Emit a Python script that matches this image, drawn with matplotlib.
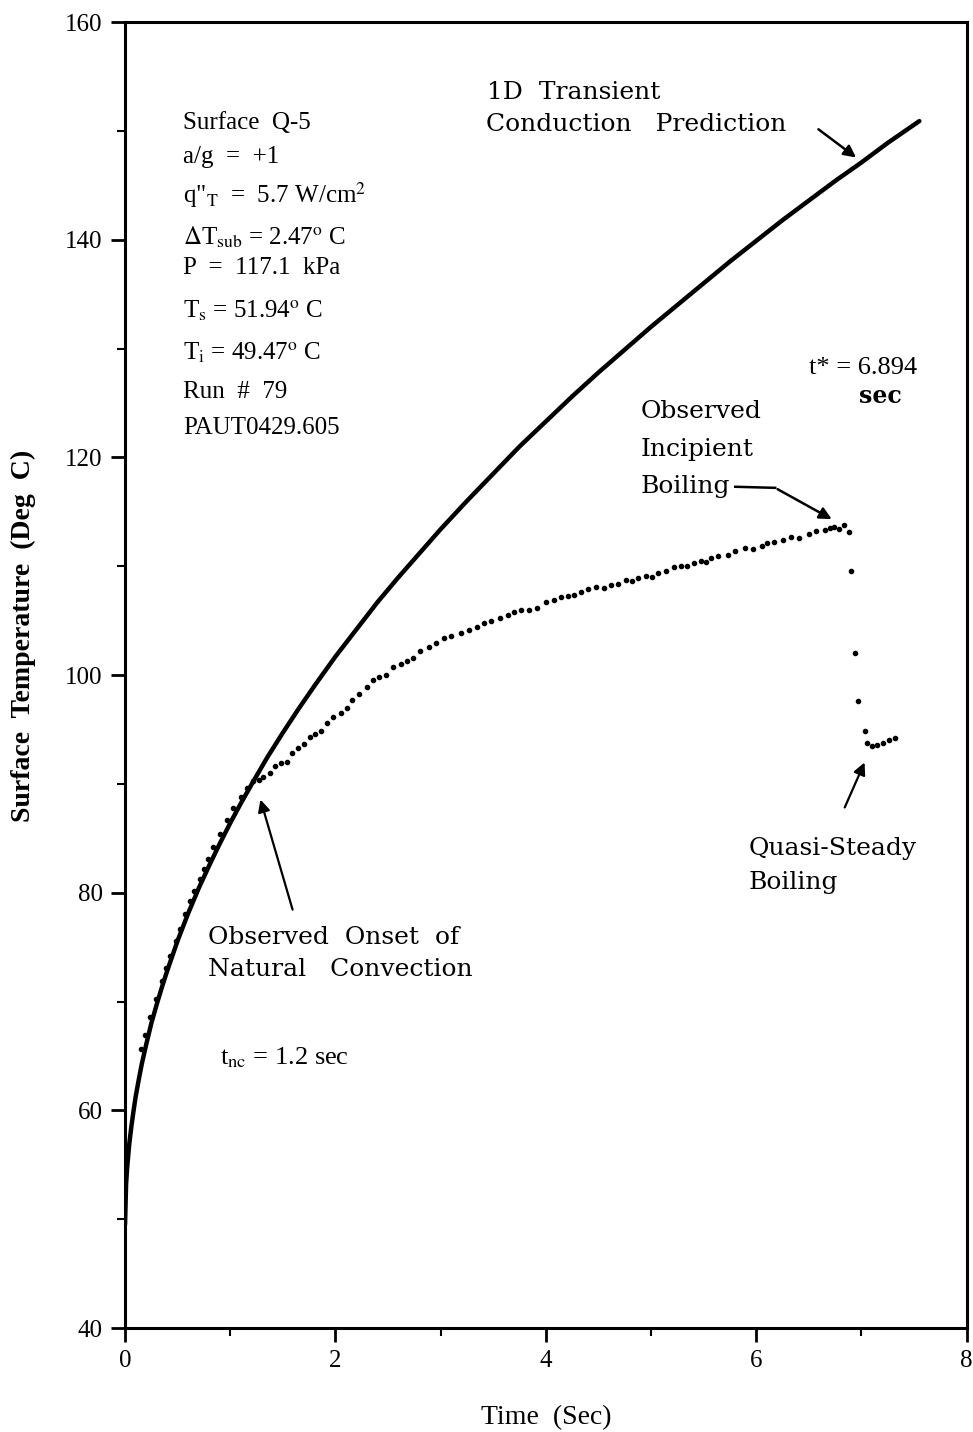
import matplotlib
matplotlib.use("Agg")
import matplotlib.pyplot as plt

plt.rcParams["font.family"] = ["Liberation Serif", "DejaVu Serif"]
plt.rcParams["mathtext.fontset"] = "stix"

# 1D transient conduction prediction
pred_t = [0.0, 0.01, 0.02, 0.04, 0.06, 0.08, 0.1, 0.13, 0.16, 0.2, 0.25, 0.3, 0.35,
          0.4, 0.5, 0.6, 0.7, 0.8, 0.9, 1.0, 1.1, 1.2, 1.35, 1.5, 1.65, 1.8, 2.0,
          2.2, 2.4, 2.6, 2.8, 3.0, 3.25, 3.5, 3.75, 4.0, 4.25, 4.5, 4.75, 5.0,
          5.25, 5.5, 5.75, 6.0, 6.25, 6.5, 6.75, 7.0, 7.25, 7.55]
pred_T = [49.5, 53.2, 54.7, 56.9, 58.5, 59.9, 61.2, 62.8, 64.3, 66.0, 68.0, 69.7, 71.3,
          72.8, 75.6, 78.1, 80.4, 82.5, 84.5, 86.4, 88.2, 89.9, 92.4, 94.7, 96.9, 99.0, 101.7,
          104.2, 106.7, 109.0, 111.2, 113.4, 116.0, 118.5, 121.0, 123.3, 125.6, 127.8, 129.9, 132.0,
          134.0, 136.0, 138.0, 139.9, 141.8, 143.6, 145.4, 147.1, 148.9, 150.9]

# measured surface temperature (dots)
obs_t = [0.15, 0.19, 0.24, 0.29, 0.35, 0.39, 0.43, 0.48, 0.52, 0.57, 0.62, 0.66, 0.71,
         0.75, 0.79, 0.84, 0.90, 0.97, 1.03, 1.10, 1.16, 1.22, 1.27, 1.31, 1.38, 1.43,
         1.48, 1.54, 1.59, 1.64, 1.70, 1.76, 1.81, 1.86, 1.92, 1.98, 2.05, 2.11, 2.16,
         2.22, 2.30, 2.36, 2.41, 2.48, 2.55, 2.62, 2.68, 2.74, 2.80, 2.89, 2.96, 3.03,
         3.10, 3.19, 3.27, 3.35, 3.41, 3.48, 3.56, 3.64, 3.70, 3.76, 3.84, 3.92, 4.00,
         4.08, 4.14, 4.21, 4.27, 4.33, 4.40, 4.48, 4.55, 4.62, 4.69, 4.76, 4.82, 4.88,
         4.95, 5.01, 5.07, 5.14, 5.22, 5.28, 5.34, 5.41, 5.47, 5.52, 5.57, 5.64, 5.73,
         5.80, 5.89, 5.97, 6.05, 6.10, 6.17, 6.25, 6.33, 6.41, 6.50, 6.57, 6.65, 6.70,
         6.74, 6.79, 6.83, 6.88, 6.90, 6.94, 6.97, 7.03, 7.05, 7.10, 7.15, 7.20, 7.26,
         7.32]
obs_T = [65.6, 66.9, 68.6, 70.2, 71.9, 73.1, 74.2, 75.6, 76.7, 78.0, 79.2, 80.2, 81.3,
         82.2, 83.1, 84.2, 85.4, 86.7, 87.8, 88.8, 89.6, 90.3, 90.4, 90.6, 91.0, 91.6,
         91.9, 92.0, 92.8, 93.3, 93.7, 94.3, 94.6, 94.9, 95.6, 96.1, 96.5, 97.0, 97.7,
         98.3, 98.9, 99.5, 99.8, 100.0, 100.7, 101.0, 101.3, 101.6, 102.2, 102.6, 102.9, 103.4,
         103.6, 103.9, 104.1, 104.4, 104.8, 105.0, 105.2, 105.5, 105.8, 106.0, 106.0, 106.2, 106.7,
         106.9, 107.2, 107.3, 107.4, 107.6, 107.9, 108.1, 108.0, 108.3, 108.4, 108.7, 108.6, 108.9,
         109.1, 109.0, 109.4, 109.6, 109.9, 110.0, 110.0, 110.3, 110.5, 110.4, 110.8, 110.9, 111.0,
         111.4, 111.7, 111.6, 111.9, 112.1, 112.2, 112.4, 112.7, 112.6, 113.0, 113.2, 113.3, 113.5,
         113.6, 113.4, 113.8, 113.1, 109.6, 102.0, 97.6, 94.9, 93.8, 93.5, 93.6, 93.8, 94.0,
         94.2]

x_ticks = [0, 2, 4, 6, 8]
y_ticks = [40, 60, 80, 100, 120, 140, 160]

params = ["Surface  Q-5",
          "a/g  =  +1",
          'q"$_{\\rm T}$  =  5.7 W/cm$^{2}$',
          "$\\Delta$T$_{\\rm sub}$ = 2.47$^{\\rm o}$ C",
          "P  =  117.1  kPa",
          "T$_{\\rm s}$ = 51.94$^{\\rm o}$ C",
          "T$_{\\rm i}$ = 49.47$^{\\rm o}$ C",
          "Run  #  79",
          "PAUT0429.605"]
params_y = [150.7, 147.6, 144.1, 140.25, 137.4, 133.5, 129.6, 126.0, 122.7]

fig = plt.figure(figsize=(9.73, 14.32), dpi=100)
ax = fig.add_axes([0.1285, 0.0726, 0.865, 0.912])

ax.plot(pred_t, pred_T, color="black", lw=3.2, solid_capstyle="round")
ax.plot(obs_t, obs_T, ls="none", marker="o", ms=3.0, color="black")

ax.set_xlim(0, 8)
ax.set_ylim(40, 160)
ax.set_xticks(x_ticks)
ax.set_yticks(y_ticks)
ax.set_xticks([1, 3, 5, 7], minor=True)
ax.set_yticks([50, 70, 90, 110, 130, 150], minor=True)
ax.tick_params(which="major", direction="out", length=10, width=2, labelsize=18, pad=6)
ax.tick_params(which="minor", direction="out", length=6, width=1.5)
for s in ax.spines.values():
    s.set_linewidth(2.2)

ax.set_xlabel("Time  (Sec)", fontsize=20, labelpad=24)
ax.set_ylabel("Surface  Temperature  (Deg  C)", fontsize=20, fontweight="bold")
ax.yaxis.set_label_coords(-0.106, 0.53)

for txt, yy in zip(params, params_y):
    ax.text(0.55, yy, txt, fontsize=18, va="center", ha="left")

ann = dict(fontsize=18, family=["DejaVu Serif"], va="center", ha="left")
ax.text(3.44, 153.5, "1D  Transient", **ann)
ax.text(3.43, 150.6, "Conduction   Prediction", **ann)
ax.annotate("", xy=(6.97, 147.4), xytext=(6.57, 150.3),
            arrowprops=dict(arrowstyle="-|>", color="black", lw=1.8, mutation_scale=18))

ax.text(6.50, 128.2, "t* = 6.894", fontsize=19, va="center", ha="left")
ax.text(7.18, 125.6, "sec", fontsize=17, va="center", ha="center", family=["DejaVu Serif"],
        fontweight="bold")

ax.text(4.90, 124.2, "Observed", **ann)
ax.text(4.90, 120.7, "Incipient", **ann)
ax.text(4.90, 117.3, "Boiling", **ann)
ax.plot([5.80, 6.18], [117.3, 117.2], color="black", lw=1.8)
ax.annotate("", xy=(6.74, 114.2), xytext=(6.18, 117.2),
            arrowprops=dict(arrowstyle="-|>", color="black", lw=1.8, mutation_scale=18))

ax.text(5.93, 84.1, "Quasi-Steady", **ann)
ax.text(5.93, 80.9, "Boiling", **ann)
ax.annotate("", xy=(7.04, 92.2), xytext=(6.83, 87.6),
            arrowprops=dict(arrowstyle="-|>", color="black", lw=1.6, mutation_scale=18))

ax.text(0.79, 75.9, "Observed  Onset  of", **ann)
ax.text(0.79, 72.9, "Natural   Convection", **ann)
ax.annotate("", xy=(1.28, 88.8), xytext=(1.60, 78.2),
            arrowprops=dict(arrowstyle="-|>", color="black", lw=1.6, mutation_scale=18))

ax.text(0.90, 64.8, "t$_{\\rm nc}$ = 1.2 sec", fontsize=19, va="center", ha="left")

fig.savefig("out.png", dpi=100)
